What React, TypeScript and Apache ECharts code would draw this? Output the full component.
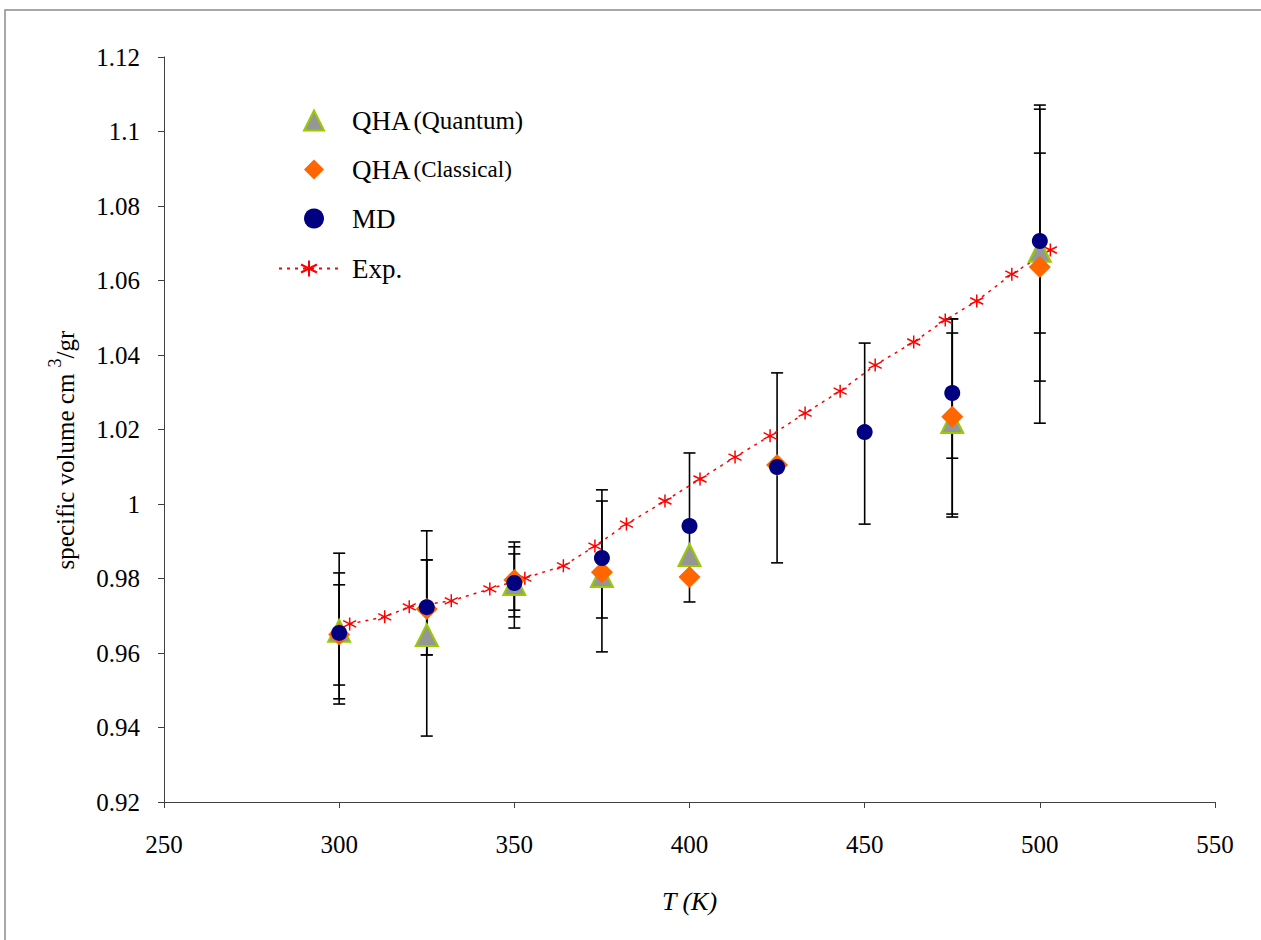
import React, { useEffect, useRef } from "react";
import * as echarts from "echarts";

// Temperatures (K) and specific volumes (cm^3/gr)
const quantumT = [300, 325, 350, 375, 400, 475, 500];
const quantumV = [0.966, 0.9648, 0.9785, 0.9807, 0.9863, 1.022, 1.068];
const quantumLow = [0.9463, 0.9377, 0.9667, 0.9603, null, 0.9965, 1.033];
const quantumHigh = [0.9868, 0.9928, 0.9898, 1.0038, null, 1.0497, 1.1071];

const classicalT = [300, 325, 350, 375, 400, 425, 475, 500];
const classicalV = [0.965, 0.9718, 0.9796, 0.9817, 0.9804, 1.0105, 1.0234, 1.0636];
const classicalLow = [0.9477, 0.9595, 0.9697, null, null, null, 0.9973, 1.0217];
const classicalHigh = [0.9815, 0.985, 0.9885, null, null, null, 1.0497, 1.106];

const mdT = [300, 325, 350, 375, 400, 425, 450, 475, 500];
const mdV = [0.9654, 0.9723, 0.9788, 0.9855, 0.9941, 1.0099, 1.0193, 1.0298, 1.0706];
const mdLow = [0.9514, 0.9595, 0.9715, 0.9694, 0.9737, 0.9842, 0.9946, 1.0123, 1.0459];
const mdHigh = [0.9783, 0.985, 0.9866, 1.0008, 1.0137, 1.0352, 1.0432, 1.0459, 1.0942];

const expT = [303, 313, 320, 332, 343, 353, 364, 373, 382, 393, 403, 413, 423, 433, 443, 453, 464, 473, 482, 492, 503];
const expV = [
  0.9678, 0.9697, 0.9724, 0.974, 0.9772, 0.9801, 0.9834, 0.9887, 0.9946, 1.0008, 1.0067,
  1.0126, 1.0183, 1.0244, 1.0303, 1.0373, 1.0435, 1.0494, 1.0545, 1.0617, 1.0682,
];

const markerNames = ["QHA (Quantum)", "QHA (Classical)", "MD"];
const lineNames = ["Exp."];

const xTicks = { min: 250, max: 550, interval: 50 };
const yTicks = { min: 0.92, max: 1.12, interval: 0.02 };

const SERIF = "'Liberation Serif', 'Times New Roman', serif";
const STAR = "path://M6 0 L6 12 M0.8 3 L11.2 9 M0.8 9 L11.2 3";

const pairs = (xs: number[], ys: number[]) => xs.map((x, i) => [x, ys[i]]);

function bars(xs: number[], lo: (number | null)[], hi: (number | null)[]) {
  const out: number[][] = [];
  xs.forEach((x, i) => {
    if (lo[i] != null && hi[i] != null) out.push([x, lo[i] as number, hi[i] as number]);
  });
  return out;
}

const legendText = {
  fontFamily: SERIF,
  color: "#000",
  rich: {
    a: { fontFamily: SERIF, fontSize: 27, lineHeight: 28, color: "#000" },
    b: { fontFamily: SERIF, fontSize: 25, lineHeight: 28, color: "#000" },
    c: { fontFamily: SERIF, fontSize: 23, lineHeight: 28, color: "#000" },
  },
};

const legendFormatter = (name: string) => {
  if (name === "QHA (Quantum)") return "{a|QHA} {b|(Quantum)}";
  if (name === "QHA (Classical)") return "{a|QHA} {c|(Classical)}";
  return "{a|" + name + "}";
};

export default function App() {
  const ref = useRef<HTMLDivElement>(null);

  useEffect(() => {
    if (!ref.current) return;
    const chart = echarts.init(ref.current, undefined, { renderer: "svg" });

    const errorData = [
      ...bars(quantumT, quantumLow, quantumHigh),
      ...bars(classicalT, classicalLow, classicalHigh),
      ...bars(mdT, mdLow, mdHigh),
    ];

    chart.setOption({
      animation: false,
      backgroundColor: "#ffffff",
      textStyle: { fontFamily: SERIF, color: "#000" },
      grid: { left: 164, top: 57, right: 46, bottom: 138 },
      legend: [
        {
          orient: "vertical",
          left: 298,
          top: 102,
          padding: 5,
          itemWidth: 20,
          itemHeight: 20,
          itemGap: 22,
          data: markerNames,
          formatter: legendFormatter,
          textStyle: { ...legendText, padding: [0, 0, 0, 23] },
        },
        {
          orient: "vertical",
          left: 273,
          top: 250,
          padding: 5,
          itemWidth: 60,
          itemHeight: 20,
          data: lineNames,
          formatter: legendFormatter,
          textStyle: { ...legendText, padding: [0, 0, 0, 8] },
        },
      ],
      xAxis: {
        type: "value",
        min: xTicks.min,
        max: xTicks.max,
        interval: xTicks.interval,
        name: "T (K)",
        nameLocation: "middle",
        nameGap: 86,
        nameTextStyle: { fontFamily: SERIF, fontSize: 26, fontStyle: "italic", color: "#000" },
        axisLine: { lineStyle: { color: "#404040", width: 1 } },
        axisTick: { length: 6, lineStyle: { color: "#404040" } },
        axisLabel: { margin: 30, fontSize: 25, fontFamily: SERIF, color: "#000" },
        splitLine: { show: false },
      },
      yAxis: {
        type: "value",
        min: yTicks.min,
        max: yTicks.max,
        interval: yTicks.interval,
        axisLine: { show: true, lineStyle: { color: "#404040", width: 1 } },
        axisTick: { show: true, length: 6, lineStyle: { color: "#404040" } },
        axisLabel: {
          margin: 24,
          fontSize: 25,
          fontFamily: SERIF,
          color: "#000",
          formatter: (v: number) => String(+v.toFixed(2)),
        },
        splitLine: { show: false },
      },
      graphic: [
        {
          type: "rect",
          z: -10,
          silent: true,
          shape: { x: 5, y: 10, width: 1400, height: 1100 },
          style: { fill: "none", stroke: "#8c8c8c", lineWidth: 1.5 },
        },
        {
          type: "text",
          x: 62,
          y: 450,
          rotation: Math.PI / 2,
          style: {
            text: "{a|specific volume cm }{s|3}{a|/gr}",
            align: "center",
            verticalAlign: "middle",
            fill: "#000",
            rich: {
              a: { fontFamily: SERIF, fontSize: 25, lineHeight: 32, verticalAlign: "bottom", fill: "#000" },
              s: { fontFamily: SERIF, fontSize: 18, lineHeight: 32, verticalAlign: "top", fill: "#000" },
            },
          },
        },
      ],
      series: [
        {
          type: "custom",
          name: "error bars",
          z: 1,
          data: errorData,
          renderItem: (params: any, api: any) => {
            const x = api.value(0);
            const lo = api.coord([x, api.value(1)]);
            const hi = api.coord([x, api.value(2)]);
            const hw = 6;
            const style = { stroke: "#000", lineWidth: 1.6 };
            return {
              type: "group",
              children: [
                { type: "line", shape: { x1: lo[0], y1: lo[1], x2: hi[0], y2: hi[1] }, style },
                { type: "line", shape: { x1: lo[0] - hw, y1: lo[1], x2: lo[0] + hw, y2: lo[1] }, style },
                { type: "line", shape: { x1: hi[0] - hw, y1: hi[1], x2: hi[0] + hw, y2: hi[1] }, style },
              ],
            };
          },
        },
        {
          type: "line",
          name: "Exp.",
          z: 2,
          data: pairs(expT, expV),
          symbol: STAR,
          symbolSize: 13,
          showSymbol: true,
          itemStyle: { color: "#ff0000", borderColor: "#ff0000", borderWidth: 1.5 },
          lineStyle: { color: "#ff0000", width: 1.5, type: [3, 5] },
        },
        {
          type: "scatter",
          name: "QHA (Quantum)",
          z: 3,
          data: pairs(quantumT, quantumV),
          symbol: "triangle",
          symbolSize: 22,
          itemStyle: { color: "#969696", borderColor: "#99cc00", borderWidth: 2, opacity: 1 },
        },
        {
          type: "scatter",
          name: "QHA (Classical)",
          z: 4,
          data: pairs(classicalT, classicalV),
          symbol: "diamond",
          symbolSize: 22,
          itemStyle: { color: "#ff6600", opacity: 1 },
        },
        {
          type: "scatter",
          name: "MD",
          z: 5,
          data: pairs(mdT, mdV),
          symbol: "circle",
          symbolSize: 16,
          itemStyle: { color: "#000080", opacity: 1 },
        },
      ],
    });

    return () => chart.dispose();
  }, []);

  return (
    <div
      ref={ref}
      style={{ position: "absolute", left: 0, top: 0, width: 1261, height: 940, background: "#fff" }}
    />
  );
}
